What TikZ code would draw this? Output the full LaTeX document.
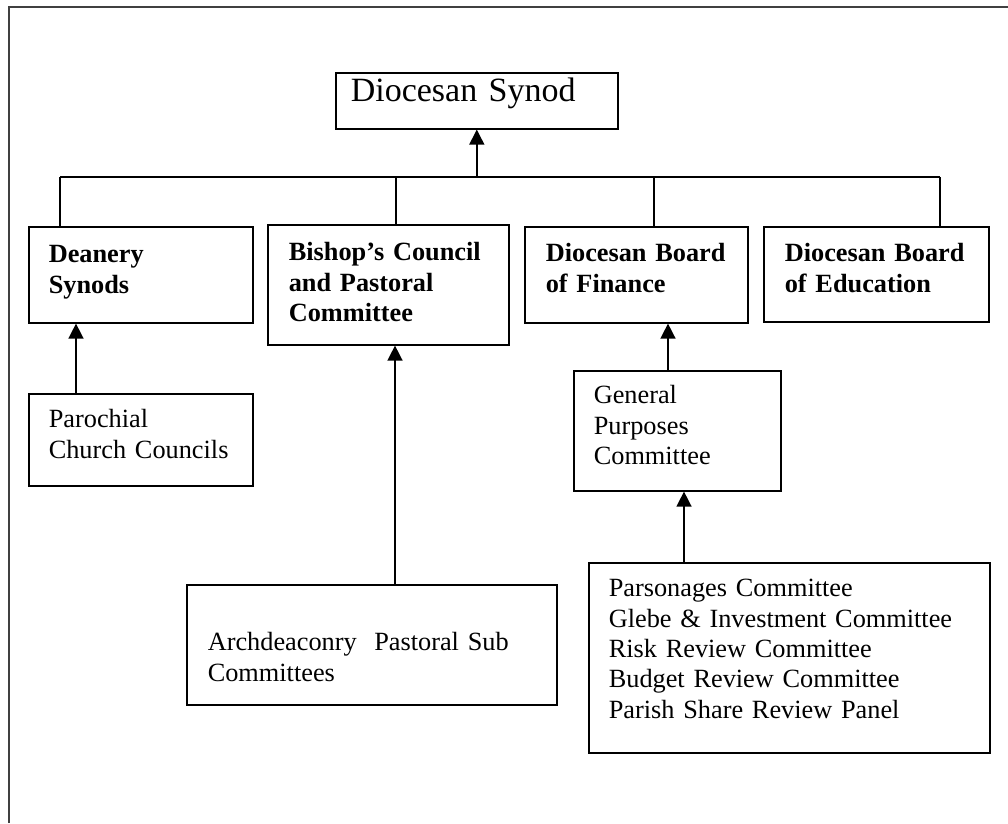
\documentclass[tikz,border=0pt]{standalone}
\usepackage{fontspec}
\setmainfont{Liberation Serif}
\usetikzlibrary{arrows.meta}
\newcommand{\myindent}[1]{\leftskip=#1pt\relax}
\tikzset{
  orgbox/.style={draw, line width=1.6pt, inner sep=0pt, anchor=north west, align=left,
    font=\fontsize{26.3}{30.3}\selectfont},
  boldbox/.style={orgbox, font=\fontsize{26.3}{30.3}\selectfont\bfseries},
  conn/.style={line width=1.5pt},
  arr/.style={line width=1.5pt, -{Triangle[width=15pt,length=15pt]}},
  frame/.style={line width=2pt, draw=black!75}
}
\begin{document}
\begin{tikzpicture}[x=1pt,y=-1pt]
\useasboundingbox (0,0) rectangle (1008,823);
% outer frame
\coordinate (fbl) at (9,823);
\coordinate (ftl) at (9,7);
\coordinate (ftr) at (1008,7);
\draw[frame] (fbl) -- (ftl) -- (ftr);

% boxes
\node[orgbox, font=\fontsize{34}{40}\selectfont, text width=282pt, text height=29pt, text depth=27pt] (synod) at (335,72) {\myindent{15}Diocesan Synod\par};

\node[boldbox, text width=224pt, text height=36pt, text depth=60pt] (deanery) at (28,226) {\myindent{20}Deanery\\Synods\par};
\node[boldbox, text width=241pt, text height=36pt, text depth=84pt] (bishop) at (267,224) {\myindent{21}Bishop’s Council\\and Pastoral\\Committee\par};
\node[boldbox, text width=223pt, text height=35pt, text depth=61pt] (finance) at (524,226) {\myindent{21}Diocesan Board\\of Finance\par};
\node[boldbox, text width=225pt, text height=35pt, text depth=60pt] (education) at (763,226) {\myindent{21}Diocesan Board\\of Education\par};

\node[orgbox, text width=224pt, text height=34pt, text depth=58pt] (parochial) at (28,393) {\myindent{20}Parochial\\Church Councils\par};
\node[orgbox, text width=207pt, text height=33pt, text depth=87pt] (gpc) at (573,370) {\myindent{20}General\\Purposes\\Committee\par};
\node[orgbox, text width=370pt, text height=66pt, text depth=54pt] (arch) at (186,584) {\myindent{21}Archdeaconry\ \ Pastoral Sub\\Committees\par};
\node[orgbox, text width=401pt, text height=34pt, text depth=156pt] (panel) at (588,562) {\myindent{20}Parsonages Committee\\Glebe \& Investment Committee\\Risk Review Committee\\Budget Review Committee\\Parish Share Review Panel\par};

% bus
\coordinate (busL) at (60,177);
\coordinate (busR) at (940,177);
\coordinate (jb) at (396,177);
\coordinate (jf) at (654,177);
\draw[conn] (busL) -- (busR);
\draw[conn] (busL) -- (busL |- deanery.north);
\draw[conn] (jb) -- (jb |- bishop.north);
\draw[conn] (jf) -- (jf |- finance.north);
\draw[conn] (busR) -- (busR |- education.north);
\draw[arr] (synod.south |- busL) -- (synod.south);

% upward arrows
\draw[arr] ([xshift=48pt]parochial.north west) -- ([xshift=48pt]deanery.south west);
\draw[arr] ([xshift=209pt]arch.north west) -- ([xshift=209pt]arch.north west |- bishop.south);
\draw[arr] ([xshift=95pt]gpc.north west) -- ([xshift=95pt]gpc.north west |- finance.south);
\draw[arr] ([xshift=96pt]panel.north west) -- ([xshift=96pt]panel.north west |- gpc.south);
\end{tikzpicture}
\end{document}
